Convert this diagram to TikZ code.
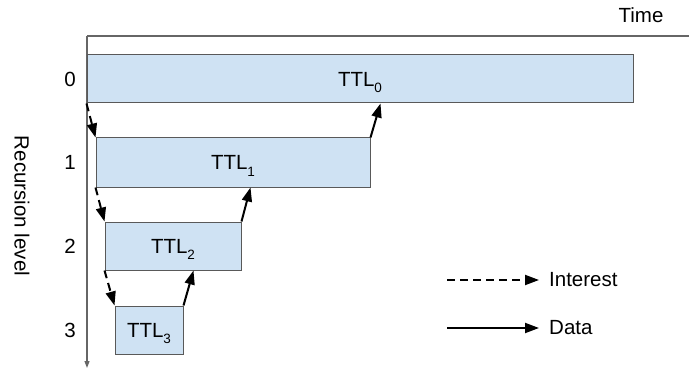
\documentclass[tikz,border=0pt]{standalone}
\usepackage{fontspec}
\setmainfont{Liberation Sans}
\usetikzlibrary{arrows.meta}
\definecolor{boxfill}{HTML}{CFE2F3}
\definecolor{boxline}{HTML}{595959}
\definecolor{axisline}{HTML}{666666}
\newcommand{\ttlsub}[1]{TTL\smash{\raisebox{-6.5pt}{\fontsize{13.5}{14}\selectfont #1}}}
\begin{document}
\begin{tikzpicture}[x=1pt,y=-1pt,
  every node/.style={font=\fontsize{20.5}{24}\selectfont, inner sep=0pt},
  tbox/.style={draw=boxline, fill=boxfill, line width=1pt, minimum height=48pt, inner sep=0pt},
  axisln/.style={draw=axisline, line width=1.2pt},
  interest/.style={line width=2pt, dash pattern=on 8pt off 5pt, -{Triangle[length=14pt,width=10pt]}},
  datarr/.style={line width=2pt, -{Triangle[length=14pt,width=10pt]}}
]
\useasboundingbox (0,0) rectangle (689,369);
% axes
\coordinate (origin) at (87,36);
\coordinate (tend) at (689,36);
\coordinate (yend) at (87,368);
\draw[axisln] (origin) -- (tend);
\draw[axisln, -{Triangle[length=7pt,width=5pt]}] (origin) -- (yend);
\node (time) at (641,15) {Time};
\node[rotate=-90] (rec) at (22,206) {Recursion level};
% level labels
\node (l0) at (70,79) {0};
\node (l1) at (70,162.5) {1};
\node (l2) at (70,246) {2};
\node (l3) at (70,330) {3};
% boxes
\node[tbox, minimum width=546pt] (b0) at (360,79) {\ttlsub{0}};
\node[tbox, minimum width=274pt, minimum height=49pt] (b1) at (233,162.5) {\ttlsub{1}};
\node[tbox, minimum width=136pt] (b2) at (173,246) {\ttlsub{2}};
\node[tbox, minimum width=68pt] (b3) at (149,330) {\ttlsub{3}};
% interest arrows
\draw[interest] (b0.south west) -- (b1.north west);
\draw[interest] (b1.south west) -- (b2.north west);
\draw[interest] (b2.south west) -- (b3.north west);
% data arrows
\draw[datarr] (b1.north east) -- ([xshift=10pt]b1.north east |- b0.south);
\draw[datarr] (b2.north east) -- ([xshift=9pt]b2.north east |- b1.south);
\draw[datarr] (b3.north east) -- ([xshift=10pt]b3.north east |- b2.south);
% legend
\coordinate (i1) at (447,280);
\coordinate (i2) at (539,280);
\coordinate (d1) at (447,328);
\coordinate (d2) at (539,328);
\draw[interest] (i1) -- (i2);
\draw[datarr] (d1) -- (d2);
\node[anchor=west] (li) at (549,280) {Interest};
\node[anchor=west] (ld) at (549,328) {Data};
\end{tikzpicture}
\end{document}
